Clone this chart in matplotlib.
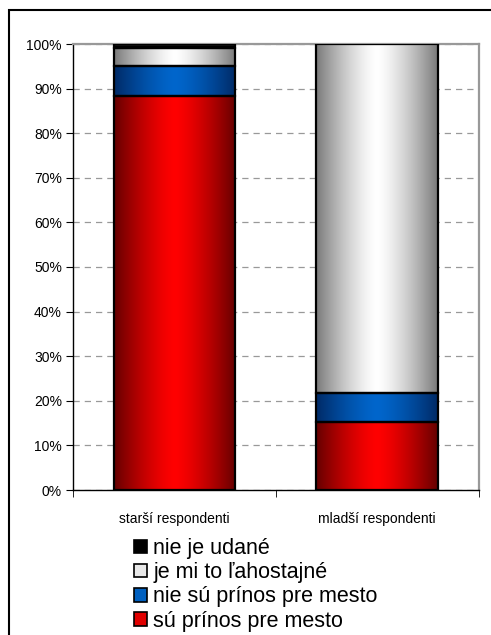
import numpy as np
import matplotlib.pyplot as plt
from matplotlib.patches import Rectangle, Patch
from matplotlib.colors import to_rgb

plt.rcParams['font.family'] = ['Liberation Sans', 'DejaVu Sans']

# data (percent of respondents)
categories = ['starší respondenti', 'mladší respondenti']
su_prinos = [88.3, 15.3]
nie_su_prinos = [6.7, 6.4]
lahostajne = [4.0, 78.3]
neudane = [1.0, 0.0]
series_labels = ['sú prínos pre mesto', 'nie sú prínos pre mesto',
                 'je mi to ľahostajné', 'nie je udané']
y_ticks = list(range(0, 101, 10))

# (edge colour, centre colour) for the cylinder-like shading
shades = [('#650000', '#ff0000'), ('#002a66', '#0066cc'),
          ('#7a7a7a', '#ffffff'), ('#000000', '#000000')]
legend_colors = ['#e00000', '#0060c0', '#e8e8e8', '#000000']


def shade(edge, mid, n=200):
    u = np.linspace(0, 1, n)
    w = 1 - np.abs(2 * u - 1) ** 1.4
    e = np.array(to_rgb(edge))
    m = np.array(to_rgb(mid))
    return (e[None, :] + (m - e)[None, :] * w[:, None])[None, :, :]


fig = plt.figure(figsize=(4.91, 6.35), dpi=100)
ax = fig.add_axes([73 / 491, 1 - 490 / 635, (478.7 - 73) / 491, (490 - 44) / 635])

width = 0.6
stack = [su_prinos, nie_su_prinos, lahostajne, neudane]
for i in range(len(categories)):
    bottom = 0
    for vals, (edge, mid) in zip(stack, shades):
        v = vals[i]
        if v <= 0:
            continue
        ax.imshow(shade(edge, mid), extent=(i - width / 2, i + width / 2, bottom, bottom + v),
                  aspect='auto', interpolation='bilinear', zorder=2)
        ax.add_patch(Rectangle((i - width / 2, bottom), width, v, fill=False,
                               edgecolor='black', lw=1.6, zorder=3))
        bottom += v

ax.set_xlim(-0.5, 1.5)
ax.set_ylim(0, 100)
ax.set_yticks(y_ticks)
ax.set_yticklabels([f'{v}%' for v in y_ticks], fontsize=10)
ax.set_xticks(range(len(categories)))
ax.set_xticklabels(categories, fontsize=10)
ax.set_xticks([-0.5, 0.5, 1.5], minor=True)
ax.tick_params(axis='x', which='major', length=0, pad=16)
ax.tick_params(axis='x', which='minor', length=5, direction='out')
ax.tick_params(axis='y', length=5, direction='out', pad=3)

ax.yaxis.grid(True, color='#999999', linestyle=(0, (5, 4)), lw=0.9)
ax.set_axisbelow(True)
for s in ['top', 'right']:
    ax.spines[s].set_color('#999999')
    ax.spines[s].set_linewidth(1.6)
for s in ['left', 'bottom']:
    ax.spines[s].set_color('black')
    ax.spines[s].set_linewidth(1.0)

handles = [Patch(facecolor=c, edgecolor='black', lw=1.2) for c in legend_colors]
fig.legend(handles[::-1], series_labels[::-1], loc='upper left',
           bbox_to_anchor=(134 / 491, 1 - 538 / 635), frameon=False, fontsize=15.5,
           handlelength=0.6, handleheight=0.6, handletextpad=0.3,
           labelspacing=0.15, borderpad=0, borderaxespad=0)

# outer chart frame (cut off at right and bottom)
fig.add_artist(Rectangle((9 / 491, -0.1), 1.2, 1 - 10 / 635 + 0.1,
                         transform=fig.transFigure, fill=False,
                         edgecolor='black', lw=1.5))

fig.savefig('out.png', dpi=100)
